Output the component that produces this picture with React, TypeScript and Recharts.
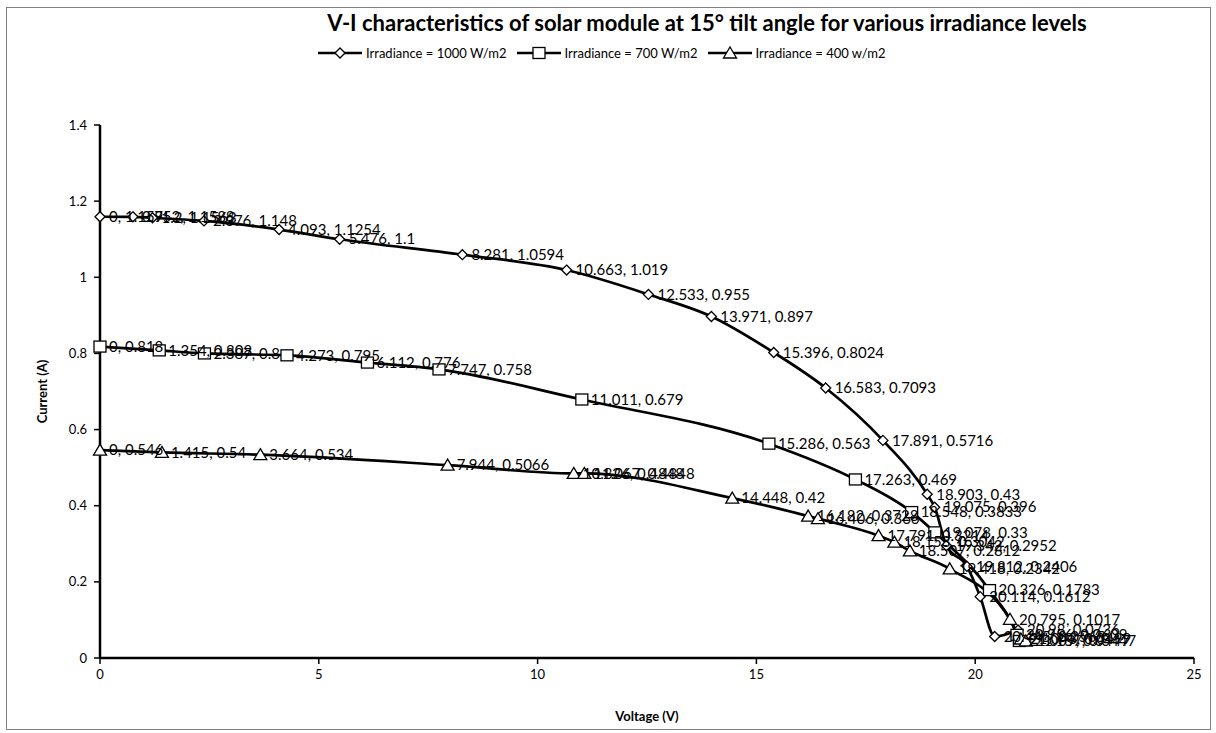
import { LabelList, Legend, Line, LineChart, XAxis, YAxis } from 'recharts';

const X_TICKS = [0, 5, 10, 15, 20, 25];
const Y_TICKS = [0, 0.2, 0.4, 0.6, 0.8, 1, 1.2, 1.4];

const V_1000 = [0, 0.752, 1.2, 2.376, 4.093, 5.476, 8.281, 10.663, 12.533, 13.971, 15.396, 16.583, 17.891, 18.903, 19.075, 19.342, 19.812, 20.114, 20.445, 20.98];
const I_1000 = [1.159, 1.1588, 1.1563, 1.148, 1.1254, 1.1, 1.0594, 1.019, 0.955, 0.897, 0.8024, 0.7093, 0.5716, 0.43, 0.396, 0.2952, 0.2406, 0.1612, 0.0565, 0.0736];

const V_700 = [0, 1.354, 2.387, 4.273, 6.112, 7.747, 11.011, 15.286, 17.263, 18.548, 19.078, 20.326, 20.956, 21.009];
const I_700 = [0.818, 0.808, 0.8, 0.795, 0.776, 0.758, 0.679, 0.563, 0.469, 0.3833, 0.33, 0.1783, 0.0609, 0.0447];

const V_400 = [0, 1.415, 3.664, 7.944, 10.826, 11.067, 14.448, 16.182, 16.406, 17.791, 18.153, 18.507, 19.418, 20.795, 21.043, 21.157];
const I_400 = [0.546, 0.54, 0.534, 0.5066, 0.4848, 0.4848, 0.42, 0.3728, 0.366, 0.3214, 0.3042, 0.2812, 0.2342, 0.1017, 0.0499, 0.0447];

const FONT = 'Lato, "Open Sans", sans-serif';

type Kind = 'diamond' | 'square' | 'triangle';

const SERIES: { name: string; kind: Kind; v: number[]; i: number[] }[] = [
  { name: 'Irradiance = 1000 W/m2', kind: 'diamond', v: V_1000, i: I_1000 },
  { name: 'Irradiance = 700 W/m2', kind: 'square', v: V_700, i: I_700 },
  { name: 'Irradiance = 400 w/m2', kind: 'triangle', v: V_400, i: I_400 },
];

function Marker({ kind, cx, cy }: { kind: Kind; cx: number; cy: number }) {
  const common = { fill: '#fff', stroke: '#000', strokeWidth: 1.3 };
  if (kind === 'diamond')
    return <polygon points={`${cx},${cy - 5} ${cx + 5},${cy} ${cx},${cy + 5} ${cx - 5},${cy}`} {...common} />;
  if (kind === 'square') return <rect x={cx - 6} y={cy - 5.5} width={12} height={11} {...common} />;
  return <polygon points={`${cx},${cy - 6} ${cx + 6.5},${cy + 5} ${cx - 6.5},${cy + 5}`} {...common} />;
}

function LegendBox() {
  return (
    <div style={{ display: 'flex', gap: 10, fontFamily: FONT, fontSize: 13, alignItems: 'center' }}>
      {SERIES.map((s) => (
        <span key={s.name} style={{ display: 'flex', alignItems: 'center' }}>
          <svg width={44} height={14}>
            <line x1={0} y1={7} x2={44} y2={7} stroke="#000" strokeWidth={2.5} />
            <Marker kind={s.kind} cx={22} cy={7} />
          </svg>
          <span style={{ marginLeft: 4 }}>{s.name}</span>
        </span>
      ))}
    </div>
  );
}

export default function App() {
  return (
    <div style={{ position: 'absolute', left: 0, top: 0, width: 1216, height: 733, background: '#fff' }}>
      <div
        style={{
          position: 'absolute',
          left: 6,
          top: 7,
          width: 1203,
          height: 721,
          border: '1px solid #808080',
        }}
      />
      <div
        style={{
          position: 'absolute',
          left: 0,
          width: 1414,
          top: 9,
          textAlign: 'center',
          fontFamily: FONT,
          fontWeight: 'bold',
          fontSize: 22,
        }}
      >
        V-I characteristics of solar module at 15° tilt angle for various irradiance levels
      </div>
      <LineChart width={1216} height={733} margin={{ top: 109, right: 22, bottom: 10, left: 42 }}>
        <XAxis
          dataKey="v"
          type="number"
          domain={[0, 25]}
          ticks={X_TICKS}
          height={65}
          tickSize={6}
          tickMargin={6}
          axisLine={{ stroke: '#000', strokeWidth: 2.5 }}
          tickLine={{ stroke: '#000', strokeWidth: 1.5 }}
          tick={{ fill: '#000', fontSize: 13, fontFamily: FONT }}
          label={{ value: 'Voltage (V)', position: 'insideBottom', offset: 2, fill: '#000', fontSize: 13, fontWeight: 'bold', fontFamily: FONT }}
        />
        <YAxis
          type="number"
          domain={[0, 1.4]}
          ticks={Y_TICKS}
          width={58}
          tickSize={6}
          tickMargin={7}
          axisLine={{ stroke: '#000', strokeWidth: 2.5 }}
          tickLine={{ stroke: '#000', strokeWidth: 1.5 }}
          tick={{ fill: '#000', fontSize: 13, fontFamily: FONT }}
          label={{ value: 'Current (A)', angle: -90, position: 'insideLeft', offset: 0, fill: '#000', fontSize: 13, fontWeight: 'bold', fontFamily: FONT, style: { textAnchor: 'middle' } }}
        />
        <Legend
          verticalAlign="top"
          content={<LegendBox />}
          wrapperStyle={{ position: 'absolute', top: 45, left: 318, width: 620 }}
        />
        {SERIES.map((s) => {
          const rows = s.v.map((v, k) => ({ v, i: s.i[k] }));
          return (
            <Line
              key={s.name}
              name={s.name}
              data={rows}
              dataKey="i"
              type="monotone"
              stroke="#000"
              strokeWidth={2.7}
              isAnimationActive={false}
              activeDot={false}
              dot={(p: any) => <Marker key={`${s.kind}-${p.index}`} kind={s.kind} cx={p.cx} cy={p.cy} />}
            >
              <LabelList
                dataKey="i"
                content={(p: any) => (
                  <text x={p.x + 9} y={p.y} dy="0.35em" fontSize={15} fontFamily={FONT} fill="#000">
                    {`${s.v[p.index]}, ${s.i[p.index]}`}
                  </text>
                )}
              />
            </Line>
          );
        })}
      </LineChart>
    </div>
  );
}
